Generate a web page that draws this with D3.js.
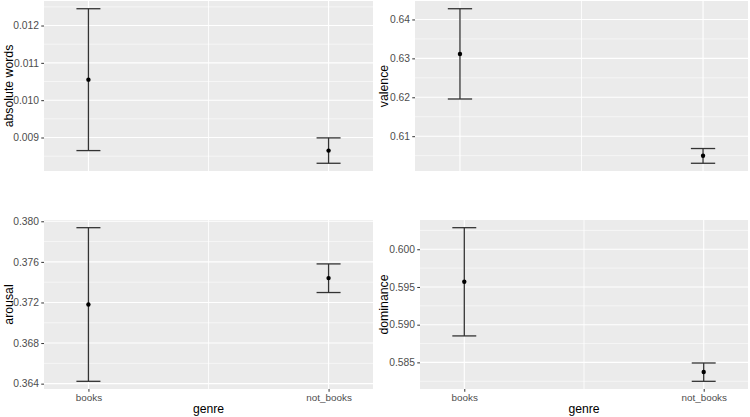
<!DOCTYPE html>
<html>
<head>
<meta charset="utf-8">
<script src="https://cdn.jsdelivr.net/npm/d3@7"></script>
<style>
  html, body { margin: 0; padding: 0; background: #fff; }
  svg { display: block; }
  text { font-family: "Liberation Sans", Arial, sans-serif; }
</style>
</head>
<body>
<svg id="chart" width="750" height="417"></svg>
<script>
// ---- data ----
const categories = ["books", "not_books"];

const absMean  = [0.01055, 0.00865];
const absLow   = [0.00865, 0.00831];
const absHigh  = [0.01245, 0.00899];
const absTicks = [0.009, 0.010, 0.011, 0.012];

const valMean  = [0.63111, 0.60496];
const valLow   = [0.61956, 0.60304];
const valHigh  = [0.64276, 0.60683];
const valTicks = [0.61, 0.62, 0.63, 0.64];

const aroMean  = [0.37180, 0.37440];
const aroLow   = [0.36423, 0.37298];
const aroHigh  = [0.37937, 0.37580];
const aroTicks = [0.364, 0.368, 0.372, 0.376, 0.380];

const domMean  = [0.59570, 0.58373];
const domLow   = [0.58851, 0.58249];
const domHigh  = [0.60286, 0.58492];
const domTicks = [0.585, 0.590, 0.595, 0.600];

const panels = [
  { title: "absolute words", mean: absMean, low: absLow, high: absHigh, ticks: absTicks, fmt: ".3f",
    box: { l: 44, r: 373, t: 1, b: 171 }, titleX: 13, showX: false },
  { title: "valence", mean: valMean, low: valLow, high: valHigh, ticks: valTicks, fmt: ".2f",
    box: { l: 415, r: 748, t: 1, b: 171 }, titleX: 388, showX: false },
  { title: "arousal", mean: aroMean, low: aroLow, high: aroHigh, ticks: aroTicks, fmt: ".3f",
    box: { l: 44, r: 373, t: 220, b: 389 }, titleX: 13, showX: true },
  { title: "dominance", mean: domMean, low: domLow, high: domHigh, ticks: domTicks, fmt: ".3f",
    box: { l: 420, r: 748, t: 220, b: 389 }, titleX: 388, showX: true }
];

const svg = d3.select("#chart");

panels.forEach(p => {
  const b = p.box;
  const g = svg.append("g");

  const x = d3.scalePoint().domain(categories).range([b.l, b.r]).padding(0.185);

  const lo = d3.min(p.low), hi = d3.max(p.high);
  const ex = (hi - lo) * 0.05;
  const y = d3.scaleLinear().domain([lo - ex, hi + ex]).range([b.b, b.t]);

  // panel background
  g.append("rect").attr("x", b.l).attr("y", b.t)
    .attr("width", b.r - b.l).attr("height", b.b - b.t).attr("fill", "#EBEBEB");

  // minor horizontal gridlines
  const step = p.ticks[1] - p.ticks[0];
  const minors = [];
  for (let i = -1; i < p.ticks.length; i++) {
    const v = p.ticks[0] + (i + 0.5) * step;
    if (v > y.domain()[0] && v < y.domain()[1]) minors.push(v);
  }
  g.selectAll(".minor").data(minors).enter().append("line")
    .attr("x1", b.l).attr("x2", b.r)
    .attr("y1", d => y(d)).attr("y2", d => y(d))
    .attr("stroke", "#fff").attr("stroke-width", 0.55);

  // major horizontal gridlines
  g.selectAll(".major").data(p.ticks).enter().append("line")
    .attr("x1", b.l).attr("x2", b.r)
    .attr("y1", d => y(d)).attr("y2", d => y(d))
    .attr("stroke", "#fff").attr("stroke-width", 1.1);

  // vertical gridlines
  const xm = (x(categories[0]) + x(categories[1])) / 2;
  g.append("line").attr("x1", xm).attr("x2", xm).attr("y1", b.t).attr("y2", b.b)
    .attr("stroke", "#fff").attr("stroke-width", 0.8);
  g.selectAll(".vmajor").data(categories).enter().append("line")
    .attr("x1", d => x(d)).attr("x2", d => x(d))
    .attr("y1", b.t).attr("y2", b.b)
    .attr("stroke", "#fff").attr("stroke-width", 1.1);

  // y axis
  const yAxis = d3.axisLeft(y).tickValues(p.ticks).tickFormat(d3.format(p.fmt))
    .tickSize(2.75).tickPadding(2.2);
  const ya = g.append("g").attr("transform", `translate(${b.l},0)`).call(yAxis);
  ya.select(".domain").remove();
  ya.selectAll(".tick line").attr("stroke", "#333333").attr("stroke-width", 1);
  ya.selectAll(".tick text").attr("fill", "#4D4D4D")
    .style("font-size", "10.3px");

  // x axis
  if (p.showX) {
    const xAxis = d3.axisBottom(x).tickSize(2.75).tickPadding(2);
    const xa = g.append("g").attr("transform", `translate(0,${b.b})`).call(xAxis);
    xa.select(".domain").remove();
    xa.selectAll(".tick line").attr("stroke", "#333333").attr("stroke-width", 1);
    xa.selectAll(".tick text").attr("fill", "#4D4D4D").style("font-size", "9.9px");
    g.append("text").attr("x", (b.l + b.r) / 2).attr("y", 413)
      .attr("text-anchor", "middle").style("font-size", "12.2px").attr("fill", "#000")
      .text("genre");
  }

  // y title
  g.append("text")
    .attr("transform", `translate(${p.titleX},${(b.t + b.b) / 2}) rotate(-90)`)
    .attr("text-anchor", "middle").style("font-size", "12.3px").attr("fill", "#000")
    .text(p.title);

  // error bars
  const cap = (x(categories[1]) - x(categories[0])) * 0.05;
  const rows = categories.map((c, i) => ({ c, m: p.mean[i], lo: p.low[i], hi: p.high[i] }));
  const eb = g.selectAll(".eb").data(rows).enter().append("g");
  eb.append("line").attr("x1", d => x(d.c)).attr("x2", d => x(d.c))
    .attr("y1", d => y(d.lo)).attr("y2", d => y(d.hi))
    .attr("stroke", "#333333").attr("stroke-width", 1.3);
  eb.append("line").attr("x1", d => x(d.c) - cap).attr("x2", d => x(d.c) + cap)
    .attr("y1", d => y(d.lo)).attr("y2", d => y(d.lo))
    .attr("stroke", "#333333").attr("stroke-width", 1.3);
  eb.append("line").attr("x1", d => x(d.c) - cap).attr("x2", d => x(d.c) + cap)
    .attr("y1", d => y(d.hi)).attr("y2", d => y(d.hi))
    .attr("stroke", "#333333").attr("stroke-width", 1.3);
  eb.append("circle").attr("cx", d => x(d.c)).attr("cy", d => y(d.m))
    .attr("r", 2.2).attr("fill", "#000");
});
</script>
</body>
</html>
